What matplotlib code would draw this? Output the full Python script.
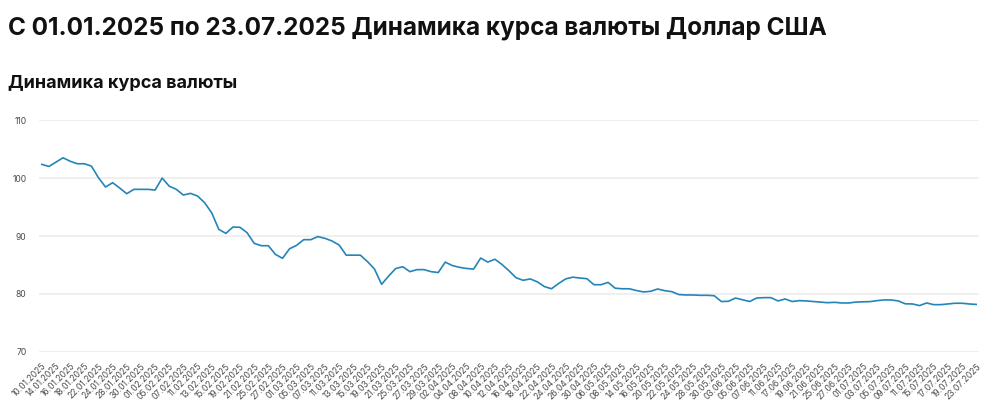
import matplotlib
matplotlib.use("Agg")
import matplotlib.pyplot as plt

plt.rcParams['font.family'] = ['Inter', 'DejaVu Sans']

title = "С 01.01.2025 по 23.07.2025 Динамика курса валюты Доллар США"
subtitle = "Динамика курса валюты"

# every other trading day is labelled on the x axis
tick_labels = [
    "10.01.2025", "14.01.2025", "16.01.2025", "18.01.2025", "22.01.2025", "24.01.2025",
    "28.01.2025", "30.01.2025", "01.02.2025", "05.02.2025", "07.02.2025", "11.02.2025",
    "13.02.2025", "15.02.2025", "19.02.2025", "21.02.2025", "25.02.2025", "27.02.2025",
    "01.03.2025", "05.03.2025", "07.03.2025", "11.03.2025", "13.03.2025", "15.03.2025",
    "19.03.2025", "21.03.2025", "25.03.2025", "27.03.2025", "29.03.2025", "02.04.2025",
    "04.04.2025", "08.04.2025", "10.04.2025", "12.04.2025", "16.04.2025", "18.04.2025",
    "22.04.2025", "24.04.2025", "26.04.2025", "30.04.2025", "06.05.2025", "08.05.2025",
    "14.05.2025", "16.05.2025", "20.05.2025", "22.05.2025", "24.05.2025", "28.05.2025",
    "30.05.2025", "03.06.2025", "05.06.2025", "07.06.2025", "11.06.2025", "17.06.2025",
    "19.06.2025", "21.06.2025", "25.06.2025", "27.06.2025", "01.07.2025", "03.07.2025",
    "05.07.2025", "09.07.2025", "11.07.2025", "15.07.2025", "17.07.2025", "19.07.2025",
    "23.07.2025",
]

rates = [
    102.36, 102.0, 102.76, 103.5, 102.9, 102.47, 102.47, 102.07, 100.06, 98.45,
    99.2, 98.28, 97.3, 98.05, 98.05, 98.05, 97.93, 100.0, 98.6, 98.05,
    97.07, 97.36, 96.9, 95.75, 94.0, 91.15, 90.46, 91.55, 91.5, 90.57,
    88.74, 88.33, 88.33, 86.84, 86.15, 87.8, 88.4, 89.37, 89.37, 89.9,
    89.6, 89.14, 88.45, 86.7, 86.7, 86.7, 85.6, 84.3, 81.67, 83.1,
    84.4, 84.7, 83.85, 84.2, 84.2, 83.85, 83.7, 85.5, 84.9, 84.6,
    84.4, 84.3, 86.2, 85.5, 86.0, 85.1, 84.0, 82.8, 82.36, 82.6,
    82.1, 81.28, 80.9, 81.8, 82.6, 82.9, 82.76, 82.64, 81.6, 81.6,
    82.0, 81.0, 80.9, 80.9, 80.6, 80.35, 80.46, 80.86, 80.57, 80.4,
    79.9, 79.83, 79.83, 79.77, 79.77, 79.7, 78.7, 78.74, 79.3, 79.0,
    78.7, 79.3, 79.37, 79.37, 78.8, 79.14, 78.7, 78.85, 78.8, 78.7,
    78.6, 78.5, 78.56, 78.45, 78.45, 78.6, 78.65, 78.68, 78.85, 78.97,
    78.97, 78.8, 78.3, 78.28, 78.0, 78.45, 78.16, 78.16, 78.28, 78.4,
    78.4, 78.28, 78.2,
]

y_ticks = [70, 80, 90, 100, 110]

fig = plt.figure(figsize=(10, 4.17), dpi=100)
ax = fig.add_axes([0.039, 0.156, 0.94, 0.556])

x = list(range(len(rates)))
ax.plot(x, rates, color='#2385b8', lw=1.2, solid_joinstyle='round')

ax.set_ylim(70, 110)
ax.set_xlim(-0.4, len(rates) - 0.6)
ax.set_yticks(y_ticks)
ax.set_xticks(x[::2])
ax.set_xticklabels(tick_labels, rotation=45, ha='right', va='top', rotation_mode='anchor')
ax.tick_params(axis='x', length=0, pad=7, labelsize=6.1, labelcolor='#4a4a4a')
ax.tick_params(axis='y', length=0, pad=9, labelsize=6.2, labelcolor='#4a4a4a')
ax.grid(axis='y', color='#ececec', lw=1.2)
ax.set_axisbelow(True)
for s in ax.spines.values():
    s.set_visible(False)

fig.text(0.008, 0.918, title, fontsize=17.5, fontweight='bold', color='#111111')
fig.text(0.008, 0.79, subtitle, fontsize=13, fontweight='bold', color='#111111')

fig.savefig('out.png', dpi=100)
